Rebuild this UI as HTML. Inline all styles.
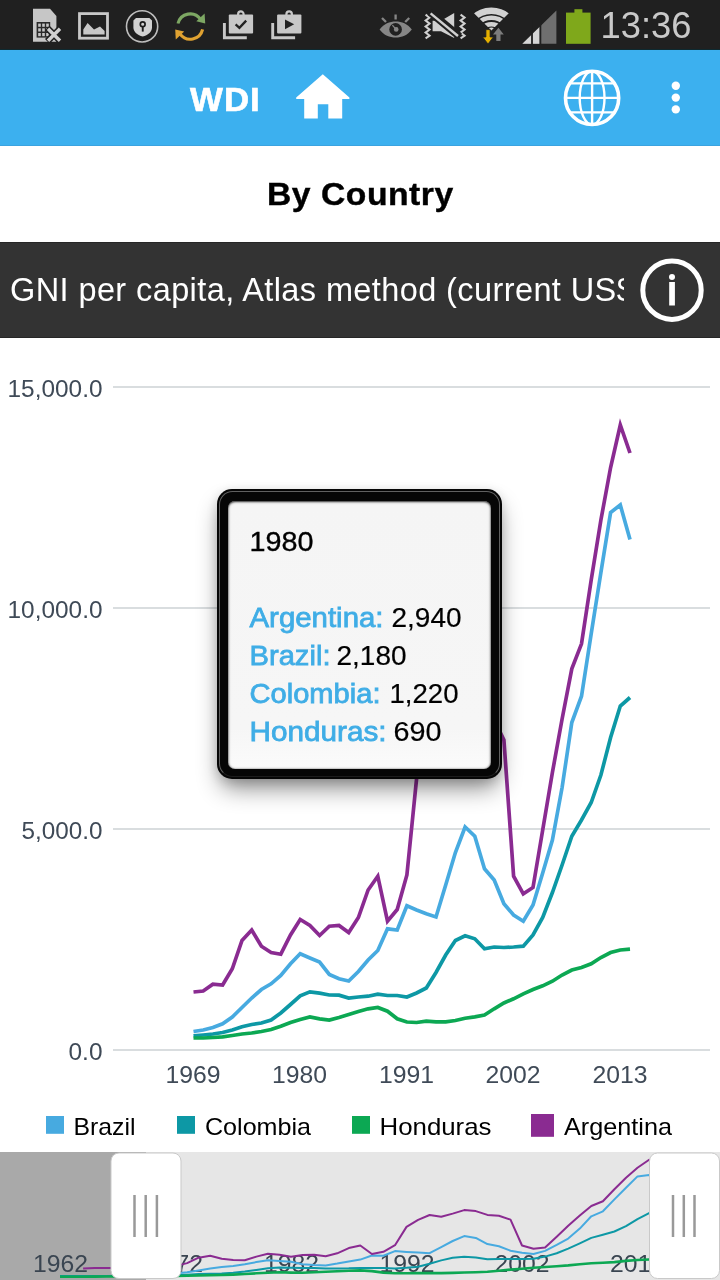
<!DOCTYPE html>
<html lang="en">
<head>
<meta charset="utf-8">
<meta name="viewport" content="width=720">
<title>WDI - By Country</title>
<style>
  html, body { margin: 0; padding: 0; }
  body {
    width: 720px; height: 1280px; position: relative; overflow: hidden;
    background: #ffffff;
    font-family: "Liberation Sans", sans-serif;
  }
  .abs { position: absolute; }
  #statusbar { left: 0; top: 0; width: 720px; height: 50px; background: #202020; }
  #statusbar .edge { position:absolute; left:0; top:49px; width:720px; height:1px; background:#0e2a31; }
  #appbar { left: 0; top: 50px; width: 720px; height: 96px; background: #3cb0ef; box-sizing: border-box; border-bottom: 1px solid #3ba3e0; }
  #appbar .brand {
    position: absolute; left: 190px; top: 33.5px; color: #fff; font-weight: bold;
    font-size: 32.5px; line-height: 32px; letter-spacing: 1px; white-space: nowrap; -webkit-text-stroke: 0.6px #fff; transform: scaleX(1.07); transform-origin: 0 0;
  }
  #title {
    left: 0; top: 146px; width: 720px; height: 96px; background: #fff;
  }
  #title h1 {
    position: absolute; left: 267.3px; margin: 0; top: 31.5px;
    font-size: 32px; line-height: 32px; font-weight: bold; color: #000; letter-spacing: 0.5px; white-space: nowrap; -webkit-text-stroke: 0.4px #000; transform: scaleX(1.052); transform-origin: 0 0;
  }
  #indicator { left: 0; top: 242px; width: 720px; height: 96px; background: #333333; box-shadow: inset 0 1px 0 #262626, inset 0 -1px 0 #262626; }
  #indicator .label {
    position: absolute; left: 10px; top: 31px; width: 614px; height: 40px; overflow: hidden;
    color: #fff; font-size: 32.5px; line-height: 34px; white-space: nowrap; letter-spacing: 0.4px;
  }
  #chart { left: 0; top: 338px; width: 720px; height: 814px; background: #fff; }
  #navigator { left: 0; top: 1152px; width: 720px; height: 128px; background: #e6e6e6; }
  #navigator .out { position:absolute; left:0; top:0; width:146px; height:128px; background:#a9a9a9; }
  #tooltip {
    left: 217px; top: 489px; width: 284.7px; height: 289.6px;
    border-radius: 15px; background: #060606;
    box-shadow: 0 13px 23px -4px rgba(0,0,0,0.46), 0 3px 11px rgba(0,0,0,0.14);
  }
  #tooltip:before {
    content: ""; position: absolute; left: 1.5px; top: 1.5px; right: 1.5px; bottom: 1.5px;
    border: 1.3px solid #777; border-bottom-color: #222; border-radius: 13.5px; opacity: .8;
  }
  #tooltip .body {
    position: absolute; left: 10.8px; right: 10.8px; top: 12px; bottom: 9.7px;
    border-radius: 7px; background: linear-gradient(#f5f5f5, #f6f6f6 85%, #fbfbfb);
    box-shadow: inset 0 0.6px 2.2px 0.3px rgba(0,0,0,0.85);
  }
  svg { position: absolute; left: 0; top: 0; overflow: visible; }
  svg text { font-family: "Liberation Sans", sans-serif; }
</style>
</head>
<body>

<!-- ============ STATUS BAR ============ -->
<div id="statusbar" class="abs"><div class="edge"></div></div>

<!-- ============ APP BAR ============ -->
<div id="appbar" class="abs"><div class="brand">WDI</div></div>

<!-- ============ TITLE ============ -->
<div id="title" class="abs"><h1>By Country</h1></div>

<!-- ============ INDICATOR BAR ============ -->
<div id="indicator" class="abs"><div class="label">GNI per capita, Atlas method (current US$)</div></div>

<!-- ============ CHART AREA ============ -->
<div id="chart" class="abs"></div>
<div id="navigator" class="abs"><div class="out"></div></div>

<!-- layer 1: icons, chart, legend, navigator -->
<svg id="layer1" width="720" height="1280" viewBox="0 0 720 1280">

<g id="status-icons">
  <!-- sim card with x -->
  <g>
    <path d="M33 8.7 H50 L56.4 16 V41.7 H33 Z" fill="#c6c6c6"/>
    <rect x="36.6" y="22" width="13.6" height="15.6" fill="#2a2a2a"/>
    <g fill="#c6c6c6">
      <rect x="38.2" y="23.6" width="2.6" height="3.2"/><rect x="42.2" y="23.6" width="2.6" height="3.2"/><rect x="46.2" y="23.6" width="2.6" height="3.2"/>
      <rect x="38.2" y="28.3" width="2.6" height="3.2"/><rect x="42.2" y="28.3" width="2.6" height="3.2"/><rect x="46.2" y="28.3" width="2.6" height="3.2"/>
      <rect x="38.2" y="33" width="2.6" height="3.2"/><rect x="42.2" y="33" width="2.6" height="3.2"/><rect x="46.2" y="33" width="2.6" height="3.2"/>
    </g>
    <path d="M47.3 28 L60.7 41.4 M60.7 28 L47.3 41.4" stroke="#202020" stroke-width="6.5" fill="none"/>
    <path d="M48 28.7 L60 40.7 M60 28.7 L48 40.7" stroke="#d0d0d0" stroke-width="3.4" fill="none"/>
  </g>
  <!-- picture -->
  <g>
    <rect x="79.5" y="13.6" width="28" height="24.6" fill="none" stroke="#c8c8c8" stroke-width="2.8"/>
    <path d="M83.3 34.6 V29.5 L87.6 23 L94 29.6 L100 26.4 L104.6 31 V34.6 Z" fill="#c8c8c8"/>
  </g>
  <!-- shield in circle -->
  <g>
    <circle cx="142.1" cy="26.4" r="15.6" fill="#1e1e1e" stroke="#bdbdbd" stroke-width="1.6"/>
    <path d="M136 18 H149.4 L152 20.4 V27.4 C152 31.8 147.8 35 142.7 36.6 C137.6 35 133.4 31.8 133.4 27.4 V20.4 Z" fill="#d2d2d2"/>
    <circle cx="142.7" cy="24.2" r="2.4" fill="none" stroke="#1c1c1c" stroke-width="1.7"/>
    <rect x="141.8" y="26" width="1.9" height="5.6" fill="#1c1c1c"/>
  </g>
  <!-- sync -->
  <g fill="none" stroke-width="3.1">
    <path d="M178 23.5 A12.6 12.6 0 0 1 200.5 19.2" stroke="#7da763"/>
    <path d="M196.3 21.2 L205.2 23.6 L204.6 13.6 Z" fill="#7da763" stroke="none"/>
    <path d="M202.6 29.4 A12.6 12.6 0 0 1 180 33.8" stroke="#e0a231"/>
    <path d="M184.2 31.6 L175.2 29.4 L175.8 39.4 Z" fill="#e0a231" stroke="none"/>
  </g>
  <!-- bag with check -->
  <g id="bag1">
    <path d="M238.1 15 V14.2 A2.75 2.75 0 0 1 243.6 14.2 V15" fill="none" stroke="#c8c8c8" stroke-width="2.2"/>
    <rect x="228.8" y="14.6" width="24.3" height="18.8" rx="1" fill="#c8c8c8"/>
    <path d="M224.4 23 V37.8 H246.8" fill="none" stroke="#c8c8c8" stroke-width="2.9"/>
    <path d="M235.6 24.4 L239.4 27.8 L246.2 20.6" fill="none" stroke="#222" stroke-width="2.3"/>
  </g>
  <!-- bag with play -->
  <g id="bag2">
    <path d="M286.4 15 V14.2 A2.75 2.75 0 0 1 291.9 14.2 V15" fill="none" stroke="#c8c8c8" stroke-width="2.2"/>
    <rect x="277.1" y="14.6" width="24.3" height="18.8" rx="1" fill="#c8c8c8"/>
    <path d="M272.7 23 V37.8 H295.1" fill="none" stroke="#c8c8c8" stroke-width="2.9"/>
    <path d="M285 19.4 V29.2 L294.2 24.3 Z" fill="#222"/>
  </g>
  <!-- eye -->
  <g>
    <path d="M379.6 29.6 C384 23.4 389.6 21.4 395.7 21.4 C401.8 21.4 407.4 23.4 411.8 29.6 C407.4 35.6 401.8 37.6 395.7 37.6 C389.6 37.6 384 35.6 379.6 29.6 Z" fill="#868686"/>
    <circle cx="395.6" cy="29.4" r="6.3" fill="#202020"/>
    <circle cx="396.2" cy="29.4" r="2.3" fill="#868686"/>
    <path d="M396 29.4 L392.4 25.2" stroke="#868686" stroke-width="1.3"/>
    <path d="M395.6 14.6 V19.4 M382 18 L386 22 M409.2 18 L405.2 22" stroke="#868686" stroke-width="2.3" fill="none"/>
  </g>
  <!-- mute / vibrate -->
  <g>
    <path d="M425.6 14.6 L429.6 17.6 L425.6 20.6 L429.6 23.6 L425.6 26.6 L429.6 29.6 L425.6 32.6 L429.6 35.6 L425.6 38.4" fill="none" stroke="#d0d0d0" stroke-width="2"/>
    <path d="M460.6 14.6 L464.6 17.6 L460.6 20.6 L464.6 23.6 L460.6 26.6 L464.6 29.6 L460.6 32.6 L464.6 35.6 L460.6 38.4" fill="none" stroke="#d0d0d0" stroke-width="2"/>
    <path d="M432.6 20.8 H441 L454.2 13 V38 L441 31.2 H432.6 Z" fill="#d0d0d0"/>
    <path d="M430 12 L459.5 36.5" stroke="#202020" stroke-width="7.6"/>
    <path d="M430.6 13.4 L458 36" stroke="#d0d0d0" stroke-width="2.4"/>
  </g>
  <!-- wifi -->
  <g>
    <clipPath id="wf"><path d="M491.4 30.6 L460.6 0 H522.2 Z"/></clipPath>
    <g clip-path="url(#wf)" fill="none" stroke="#d2d2d2">
      <circle cx="491.4" cy="37" r="26.25" stroke-width="6.3"/>
      <circle cx="491.4" cy="37" r="19.25" stroke-width="4.5"/>
      <circle cx="491.4" cy="37" r="12.8" stroke-width="4.4"/>
      <circle cx="491.4" cy="37" r="4.8" stroke-width="9.4"/>
    </g>
    <path d="M494.6 34.4 L498.4 27.4 L502.2 34.4 Z" fill="#202020" stroke="#202020" stroke-width="2.6"/>
    <path d="M485.9 29.6 H490.1 V37 H493.4 L488 44 L482.6 37 H485.9 Z" fill="#e6b100" stroke="#202020" stroke-width="0.8"/>
    <path d="M496.3 41 V34.6 H493 L498.4 27.8 L503.8 34.6 H500.5 V41 Z" fill="#7c7c7c"/>
  </g>
  <!-- signal -->
  <g>
    <path d="M522.4 43.8 H556.4 V10.6 Z" fill="#6f6f6f"/>
    <path d="M522.4 43.8 H539.6 V27 Z" fill="#d6d6d6"/>
    <path d="M532 20 V45 M540.4 20 V45" stroke="#202020" stroke-width="1.8"/>
  </g>
  <!-- battery -->
  <g fill="#7fa81b">
    <rect x="566" y="12.6" width="24.6" height="31.2"/>
    <rect x="574.4" y="9.2" width="8" height="4"/>
  </g>
  <text x="600.5" y="37.9" font-size="37" fill="#c9c9c9" textLength="91" lengthAdjust="spacingAndGlyphs">13:36</text>
</g>


<g id="app-icons">
  <!-- home -->
  <path d="M322.8 74.2 L349.4 97.4 V99 H342.2 V118.6 H328.3 V104.2 H317.8 V118.6 H304.2 V99 H296.2 V97.4 Z" fill="#ffffff"/>
  <!-- globe -->
  <g fill="none" stroke="#ffffff">
    <circle cx="592.1" cy="97.9" r="26.6" stroke-width="3.6"/>
    <ellipse cx="592.1" cy="97.9" rx="12.4" ry="26.6" stroke-width="2.4"/>
    <path d="M592.1 71 V124.8 M565.5 97.9 H618.7 M569.4 83.4 H614.8 M569.4 112.4 H614.8" stroke-width="2.4"/>
  </g>
  <!-- overflow -->
  <g fill="#ffffff">
    <circle cx="675.8" cy="85.8" r="4.2"/>
    <circle cx="675.8" cy="97.6" r="4.2"/>
    <circle cx="675.8" cy="109.4" r="4.2"/>
  </g>
  <!-- info -->
  <g>
    <circle cx="672" cy="290.2" r="29.2" fill="none" stroke="#ffffff" stroke-width="5"/>
    <circle cx="672" cy="277" r="3" fill="#ffffff"/>
    <rect x="669.2" y="282" width="5.7" height="23.5" fill="#ffffff"/>
  </g>
</g>


<g id="grid" stroke="#d9dddf" stroke-width="2">
  <line x1="113" y1="387" x2="710" y2="387"/>
  <line x1="113" y1="608" x2="710" y2="608"/>
  <line x1="113" y1="829" x2="710" y2="829"/>
  <line x1="113" y1="1050" x2="710" y2="1050"/>
</g>
<g id="yaxis" fill="#3f4a57" font-size="24" text-anchor="end" transform="translate(0,0.7)">
  <text x="102.5" y="396" textLength="95" lengthAdjust="spacingAndGlyphs">15,000.0</text>
  <text x="102.5" y="617" textLength="95" lengthAdjust="spacingAndGlyphs">10,000.0</text>
  <text x="102.5" y="838" textLength="81" lengthAdjust="spacingAndGlyphs">5,000.0</text>
  <text x="102.5" y="1059" textLength="34" lengthAdjust="spacingAndGlyphs">0.0</text>
</g>
<g id="xaxis" fill="#3f4a57" font-size="24" text-anchor="middle" transform="translate(-0.6,-1)">
  <text x="193.5" y="1084" textLength="55" lengthAdjust="spacingAndGlyphs">1969</text>
  <text x="300" y="1084" textLength="55" lengthAdjust="spacingAndGlyphs">1980</text>
  <text x="407" y="1084" textLength="55" lengthAdjust="spacingAndGlyphs">1991</text>
  <text x="513.5" y="1084" textLength="55" lengthAdjust="spacingAndGlyphs">2002</text>
  <text x="620.5" y="1084" textLength="55" lengthAdjust="spacingAndGlyphs">2013</text>
</g>
<g id="series" fill="none" stroke-width="3.7" stroke-linejoin="miter" stroke-linecap="butt">
  <polyline stroke="#47aae0" points="193.5,1031.5 203.2,1030.0 212.9,1027.5 222.6,1023.8 232.3,1017.0 242.0,1007.5 251.7,998.0 261.4,989.5 271.1,983.8 280.8,975.5 290.5,963.8 300.2,953.8 309.9,958.0 319.6,962.0 329.3,974.5 339.0,978.8 348.7,981.0 358.4,971.5 368.1,960.0 377.8,950.5 387.5,928.8 397.2,930.0 406.9,905.8 416.6,910.0 426.3,913.8 436.0,917.0 445.7,885.0 455.4,852.5 465.1,827.0 474.8,836.2 484.5,868.8 494.2,880.0 503.9,903.8 513.6,915.0 523.3,921.2 533.0,905.0 542.7,873.0 552.4,840.0 562.1,787.5 571.8,722.5 581.5,696.2 591.2,633.8 600.9,572.5 610.6,512.5 620.3,505.0 630.0,539.5"/>
  <polyline stroke="#0d98a5" points="193.5,1035.8 203.2,1035.0 212.9,1034.0 222.6,1032.5 232.3,1030.0 242.0,1026.8 251.7,1024.5 261.4,1023.0 271.1,1020.0 280.8,1013.0 290.5,1004.5 300.2,995.8 309.9,991.8 319.6,993.2 329.3,995.0 339.0,995.2 348.7,998.0 358.4,997.0 368.1,996.2 377.8,994.2 387.5,995.5 397.2,995.5 406.9,997.0 416.6,993.0 426.3,988.0 436.0,972.5 445.7,955.0 455.4,940.5 465.1,935.8 474.8,938.8 484.5,948.8 494.2,947.0 503.9,947.5 513.6,947.0 523.3,946.2 533.0,935.0 542.7,917.5 552.4,892.5 562.1,865.0 571.8,836.2 581.5,820.0 591.2,802.5 600.9,775.0 610.6,737.5 620.3,706.0 630.0,697.5"/>
  <polyline stroke="#0ca853" points="193.5,1038.0 203.2,1038.0 212.9,1037.5 222.6,1036.8 232.3,1035.5 242.0,1034.0 251.7,1033.0 261.4,1031.5 271.1,1029.5 280.8,1026.2 290.5,1022.5 300.2,1019.5 309.9,1017.0 319.6,1018.8 329.3,1020.0 339.0,1017.5 348.7,1014.5 358.4,1011.5 368.1,1008.8 377.8,1007.5 387.5,1011.2 397.2,1018.8 406.9,1022.0 416.6,1022.5 426.3,1021.2 436.0,1021.8 445.7,1021.8 455.4,1020.5 465.1,1018.2 474.8,1016.8 484.5,1015.0 494.2,1008.8 503.9,1003.0 513.6,998.8 523.3,993.8 533.0,989.5 542.7,985.8 552.4,981.2 562.1,975.0 571.8,970.0 581.5,967.5 591.2,963.8 600.9,957.5 610.6,952.5 620.3,950.0 630.0,949.2"/>
  <polyline stroke="#8a2b91" points="193.5,992.0 203.2,991.0 212.9,984.2 222.6,985.0 232.3,968.8 242.0,940.5 251.7,930.0 261.4,946.2 271.1,952.5 280.8,954.2 290.5,935.0 300.2,919.5 309.9,925.5 319.6,935.5 329.3,926.2 339.0,925.5 348.7,932.5 358.4,917.5 368.1,890.0 377.8,876.2 387.5,921.2 397.2,909.5 406.9,875.0 416.6,778.6 426.3,741.5 436.0,715.8 445.7,724.7 455.4,708.3 465.1,690.2 474.8,695.5 484.5,715.4 494.2,719.8 503.9,740.0 513.6,876.2 523.3,893.8 533.0,887.5 542.7,830.0 552.4,772.5 562.1,719.0 571.8,668.8 581.5,643.8 591.2,580.0 600.9,520.0 610.6,467.5 620.3,425.0 630.0,453.0"/>
</g>
<g id="legend" font-size="24" fill="#000">
  <rect x="46" y="1116" width="18" height="17.8" fill="#47aae0"/>
  <text x="73.5" y="1134.5" textLength="62" lengthAdjust="spacingAndGlyphs">Brazil</text>
  <rect x="177" y="1116" width="18" height="17.8" fill="#0d98a5"/>
  <text x="205" y="1134.5" textLength="106" lengthAdjust="spacingAndGlyphs">Colombia</text>
  <rect x="352" y="1116" width="18" height="17.8" fill="#0ca853"/>
  <text x="379.5" y="1134.5" textLength="112" lengthAdjust="spacingAndGlyphs">Honduras</text>
  <rect x="531" y="1114" width="23" height="22.8" fill="#8a2b91"/>
  <text x="564" y="1134.5" textLength="108" lengthAdjust="spacingAndGlyphs">Argentina</text>
</g>


<g id="navlabels" fill="#3a4551" font-size="24" text-anchor="middle">
  <text x="60.5" y="1272" textLength="55" lengthAdjust="spacingAndGlyphs">1962</text>
  <text x="175.5" y="1272" textLength="55" lengthAdjust="spacingAndGlyphs">1972</text>
  <text x="291.5" y="1272" textLength="55" lengthAdjust="spacingAndGlyphs">1982</text>
  <text x="407" y="1272" textLength="55" lengthAdjust="spacingAndGlyphs">1992</text>
  <text x="522" y="1272" textLength="55" lengthAdjust="spacingAndGlyphs">2002</text>
  <text x="637.5" y="1272" textLength="55" lengthAdjust="spacingAndGlyphs">2012</text>
</g>
<g id="navseries" fill="none" stroke-width="2" stroke-linejoin="round">
  <polyline stroke="#47aae0" points="60.0,1276.6 71.5,1276.4 83.1,1276.3 94.7,1276.2 106.2,1275.9 117.8,1275.7 129.3,1275.5 140.9,1275.0 152.4,1274.7 163.9,1274.2 175.5,1273.5 187.1,1272.2 198.6,1270.4 210.2,1268.6 221.7,1267.0 233.2,1265.9 244.8,1264.3 256.4,1262.1 267.9,1260.2 279.5,1261.0 291.0,1261.8 302.6,1264.2 314.1,1265.0 325.7,1265.4 337.2,1263.6 348.8,1261.4 360.3,1259.6 371.9,1255.5 383.4,1255.7 395.0,1251.1 406.5,1251.9 418.1,1252.6 429.6,1253.2 441.2,1247.1 452.7,1241.0 464.2,1236.1 475.8,1237.9 487.4,1244.1 498.9,1246.2 510.5,1250.7 522.0,1252.8 533.5,1254.0 545.1,1250.9 556.7,1244.9 568.2,1238.6 579.8,1228.6 591.3,1216.3 602.9,1211.3 614.4,1199.4 626.0,1187.8 637.5,1176.4 649.1,1174.9 660.6,1181.5"/>
  <polyline stroke="#0d98a5" points="60.0,1276.1 71.5,1276.1 83.1,1276.0 94.7,1276.0 106.2,1275.9 117.8,1275.9 129.3,1275.8 140.9,1275.8 152.4,1275.6 163.9,1275.5 175.5,1275.2 187.1,1274.7 198.6,1274.1 210.2,1273.7 221.7,1273.4 233.2,1272.8 244.8,1271.5 256.4,1269.9 267.9,1268.2 279.5,1267.4 291.0,1267.7 302.6,1268.0 314.1,1268.1 325.7,1268.6 337.2,1268.4 348.8,1268.3 360.3,1267.9 371.9,1268.1 383.4,1268.1 395.0,1268.4 406.5,1267.7 418.1,1266.7 429.6,1263.8 441.2,1260.4 452.7,1257.7 464.2,1256.8 475.8,1257.4 487.4,1259.3 498.9,1258.9 510.5,1259.0 522.0,1258.9 533.5,1258.8 545.1,1256.6 556.7,1253.3 568.2,1248.6 579.8,1243.3 591.3,1237.9 602.9,1234.8 614.4,1231.5 626.0,1226.2 637.5,1219.1 649.1,1213.1 660.6,1211.5"/>
  <polyline stroke="#0ca853" stroke-width="2.6" points="60.0,1276.8 71.5,1276.7 83.1,1276.7 94.7,1276.6 106.2,1276.5 117.8,1276.4 129.3,1276.3 140.9,1276.2 152.4,1276.2 163.9,1276.1 175.5,1276.0 187.1,1275.7 198.6,1275.5 210.2,1275.3 221.7,1275.0 233.2,1274.6 244.8,1274.0 256.4,1273.3 267.9,1272.7 279.5,1272.2 291.0,1272.6 302.6,1272.8 314.1,1272.3 325.7,1271.8 337.2,1271.2 348.8,1270.7 360.3,1270.4 371.9,1271.1 383.4,1272.6 395.0,1273.2 406.5,1273.3 418.1,1273.0 429.6,1273.1 441.2,1273.1 452.7,1272.9 464.2,1272.5 475.8,1272.2 487.4,1271.8 498.9,1270.7 510.5,1269.6 522.0,1268.8 533.5,1267.8 545.1,1267.0 556.7,1266.3 568.2,1265.4 579.8,1264.2 591.3,1263.3 602.9,1262.8 614.4,1262.1 626.0,1260.9 637.5,1260.0 649.1,1259.5 660.6,1259.4"/>
  <polyline stroke="#8a2b91" points="83.1,1268.6 94.7,1268.0 106.2,1267.9 117.8,1268.0 129.3,1267.8 140.9,1267.5 152.4,1267.3 163.9,1266.0 175.5,1266.1 187.1,1263.1 198.6,1257.7 210.2,1255.7 221.7,1258.8 233.2,1260.0 244.8,1260.3 256.4,1256.6 267.9,1253.7 279.5,1254.8 291.0,1256.7 302.6,1255.0 314.1,1254.8 325.7,1256.2 337.2,1253.3 348.8,1248.1 360.3,1245.5 371.9,1254.0 383.4,1251.8 395.0,1245.2 406.5,1226.9 418.1,1219.9 429.6,1215.0 441.2,1216.7 452.7,1213.6 464.2,1210.1 475.8,1211.1 487.4,1214.9 498.9,1215.7 510.5,1219.6 522.0,1245.5 533.5,1248.8 545.1,1247.6 556.7,1236.7 568.2,1225.8 579.8,1215.6 591.3,1206.0 602.9,1201.3 614.4,1189.2 626.0,1177.8 637.5,1167.8 649.1,1159.7 660.6,1165.0"/>
</g>
<g id="handles">
  <rect x="111" y="1153" width="70" height="125.5" rx="8" ry="8" fill="#ffffff" stroke="#c9c9c9" stroke-width="1"/>
  <g stroke="#999" stroke-width="2.5">
    <line x1="134.5" y1="1195" x2="134.5" y2="1237"/>
    <line x1="145.7" y1="1195" x2="145.7" y2="1237"/>
    <line x1="156.9" y1="1195" x2="156.9" y2="1237"/>
  </g>
  <rect x="649.5" y="1153" width="70" height="125.5" rx="8" ry="8" fill="#ffffff" stroke="#c9c9c9" stroke-width="1"/>
  <g stroke="#999" stroke-width="2.5">
    <line x1="673" y1="1195" x2="673" y2="1237"/>
    <line x1="683.8" y1="1195" x2="683.8" y2="1237"/>
    <line x1="694.5" y1="1195" x2="694.5" y2="1237"/>
  </g>
</g>

</svg>

<!-- ============ TOOLTIP ============ -->
<div id="tooltip" class="abs"><div class="body"></div></div>
<svg id="layer2" width="720" height="1280" viewBox="0 0 720 1280">

<g font-size="28">
  <text x="249.5" y="551" fill="#000" stroke="#000" stroke-width="0.35" textLength="64" lengthAdjust="spacingAndGlyphs">1980</text>
  <text x="249.5" y="626.5" fill="#3fade6" stroke="#3fade6" stroke-width="0.8" textLength="134" lengthAdjust="spacingAndGlyphs">Argentina:</text>
  <text x="391.5" y="626.5" fill="#000" stroke="#000" stroke-width="0.2" textLength="70" lengthAdjust="spacingAndGlyphs">2,940</text>
  <text x="249.5" y="664.5" fill="#3fade6" stroke="#3fade6" stroke-width="0.8" textLength="81" lengthAdjust="spacingAndGlyphs">Brazil:</text>
  <text x="336.5" y="664.5" fill="#000" stroke="#000" stroke-width="0.2" textLength="70" lengthAdjust="spacingAndGlyphs">2,180</text>
  <text x="249.5" y="702.5" fill="#3fade6" stroke="#3fade6" stroke-width="0.8" textLength="131" lengthAdjust="spacingAndGlyphs">Colombia:</text>
  <text x="389.5" y="702.5" fill="#000" stroke="#000" stroke-width="0.2" textLength="69" lengthAdjust="spacingAndGlyphs">1,220</text>
  <text x="249.5" y="740.5" fill="#3fade6" stroke="#3fade6" stroke-width="0.8" textLength="137" lengthAdjust="spacingAndGlyphs">Honduras:</text>
  <text x="393.5" y="740.5" fill="#000" stroke="#000" stroke-width="0.2" textLength="48" lengthAdjust="spacingAndGlyphs">690</text>
</g>

</svg>

</body>
</html>
